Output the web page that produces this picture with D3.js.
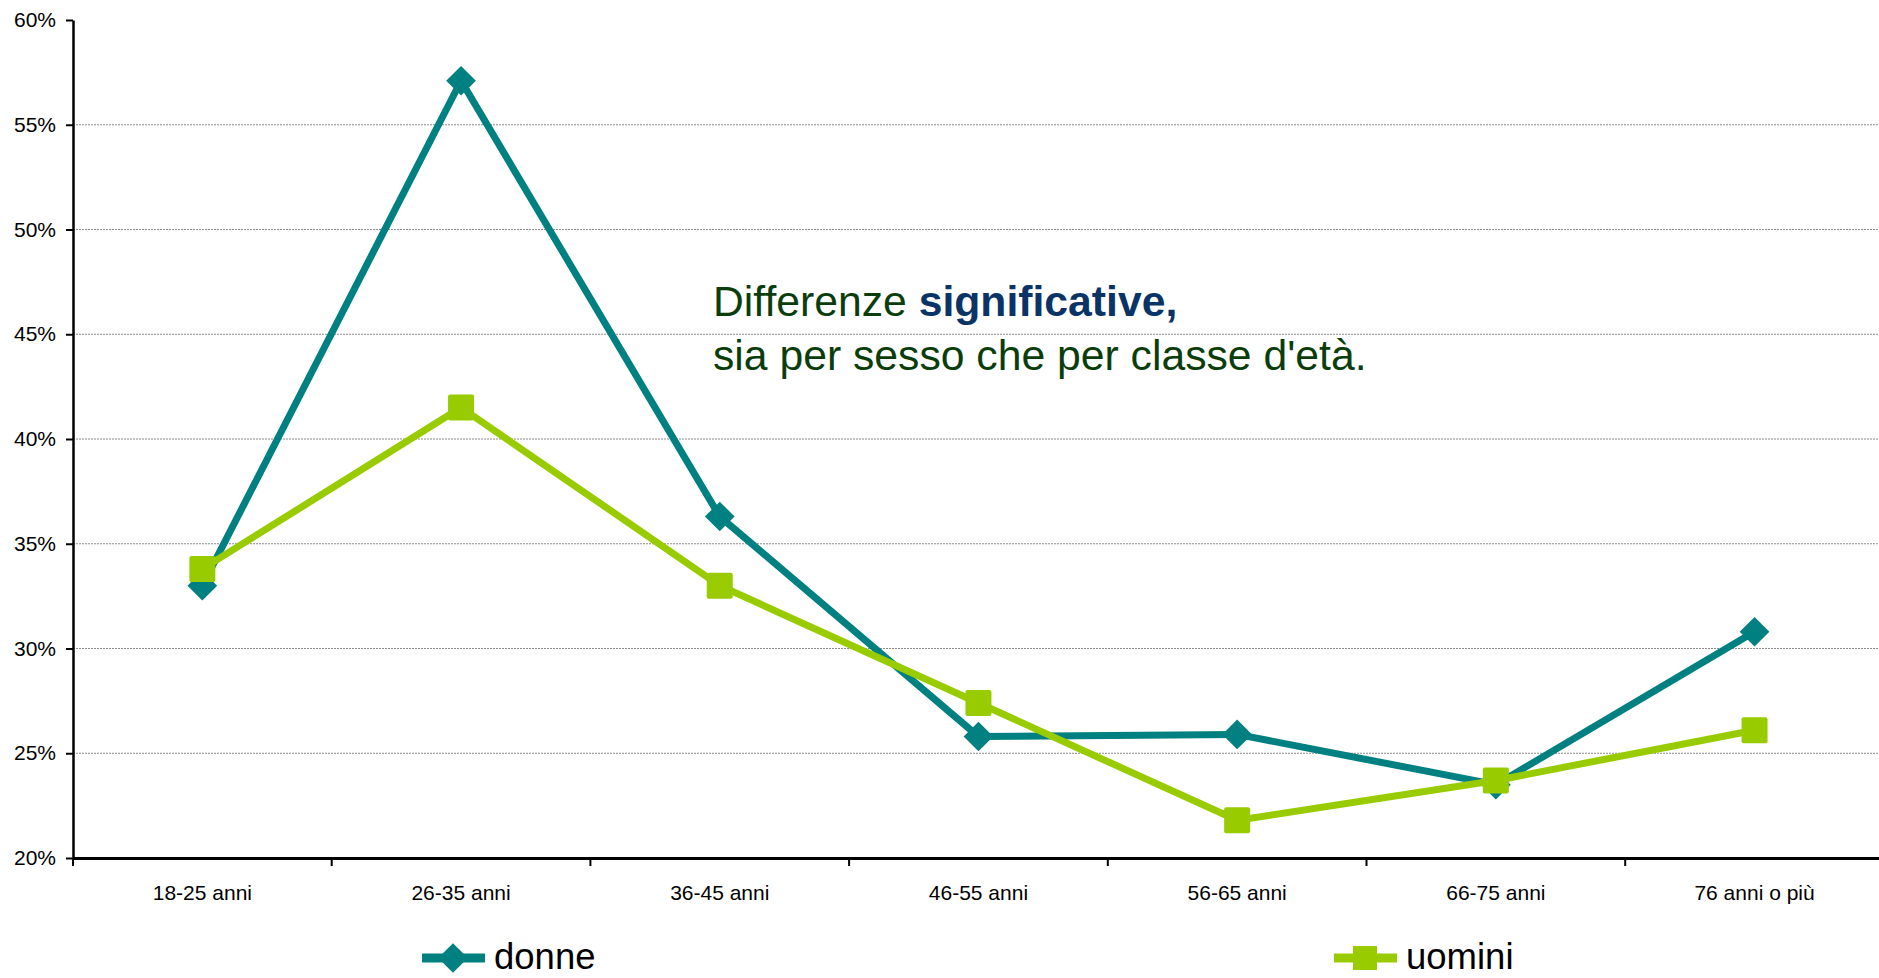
<!DOCTYPE html>
<html>
<head>
<meta charset="utf-8">
<script src="https://cdn.jsdelivr.net/npm/d3@7"></script>
<style>
  html, body { margin: 0; padding: 0; background: #fff; }
  svg { display: block; font-family: "Liberation Sans", Arial, sans-serif; }
</style>
</head>
<body>
<svg id="chart" width="1879" height="978"></svg>
<script>
// data
const categories = ['18-25 anni', '26-35 anni', '36-45 anni', '46-55 anni', '56-65 anni', '66-75 anni', '76 anni o più'];
const donne  = [0.330, 0.571, 0.363, 0.258, 0.259, 0.235, 0.308];
const uomini = [0.338, 0.415, 0.330, 0.274, 0.218, 0.237, 0.261];
const yTicks = [0.20, 0.25, 0.30, 0.35, 0.40, 0.45, 0.50, 0.55, 0.60];

const svg = d3.select('#chart');
const plotLeft = 73, plotTop = 20, plotBottom = 858, plotRight = 73 + 7 * 258.7;

const x = d3.scaleBand().domain(categories).range([plotLeft, plotRight]).padding(0);
const y = d3.scaleLinear().domain([0.2, 0.6]).range([plotBottom, plotTop]);

// gridlines (none on 60%)
svg.append('g')
  .selectAll('line')
  .data(yTicks.filter(d => d > 0.2 && d < 0.6))
  .join('line')
  .attr('x1', plotLeft).attr('x2', 1879)
  .attr('y1', d => y(d)).attr('y2', d => y(d))
  .attr('stroke', '#8c8c8c')
  .attr('stroke-width', 1)
  .attr('stroke-dasharray', '2,1');

// y axis
const yAxis = svg.append('g')
  .attr('transform', `translate(${plotLeft},0)`)
  .call(d3.axisLeft(y).tickValues(yTicks).tickFormat(d3.format('.0%')).tickSize(7).tickSizeOuter(0));
yAxis.select('.domain').attr('stroke', '#000').attr('stroke-width', 2.5);
yAxis.selectAll('.tick line').attr('stroke', '#000').attr('stroke-width', 2);
yAxis.selectAll('.tick text')
  .attr('x', -17)
  .attr('font-size', 21)
  .attr('fill', '#000')
  .style('font-family', '"Liberation Sans", Arial, sans-serif');

// x axis: labels at band centres, ticks on band edges
const xAxis = svg.append('g')
  .attr('transform', `translate(0,${plotBottom})`)
  .call(d3.axisBottom(x).tickSize(0).tickPadding(27));
xAxis.select('.domain').attr('stroke', '#000').attr('stroke-width', 3);
xAxis.selectAll('.tick text')
  .attr('font-size', 21)
  .attr('fill', '#000')
  .style('font-family', '"Liberation Sans", Arial, sans-serif');

svg.append('g')
  .selectAll('line')
  .data(categories)
  .join('line')
  .attr('x1', d => x(d)).attr('x2', d => x(d))
  .attr('y1', plotBottom).attr('y2', plotBottom + 8)
  .attr('stroke', '#000').attr('stroke-width', 2);

const cx = d => x(d) + x.bandwidth() / 2;
const line = d3.line().x((d, i) => cx(categories[i])).y(d => y(d));

const colDonne = '#008080', colUomini = '#99cc00';

// donne
svg.append('path')
  .datum(donne)
  .attr('d', line)
  .attr('fill', 'none')
  .attr('stroke', colDonne)
  .attr('stroke-width', 7)
  .attr('stroke-linejoin', 'round');

svg.append('g')
  .selectAll('path')
  .data(donne)
  .join('path')
  .attr('d', d3.symbol().type(d3.symbolSquare).size(21 * 21))
  .attr('transform', (d, i) => `translate(${cx(categories[i])},${y(d)}) rotate(45)`)
  .attr('fill', colDonne);

// uomini
svg.append('path')
  .datum(uomini)
  .attr('d', line)
  .attr('fill', 'none')
  .attr('stroke', colUomini)
  .attr('stroke-width', 7)
  .attr('stroke-linejoin', 'round');

svg.append('g')
  .selectAll('rect')
  .data(uomini)
  .join('rect')
  .attr('x', (d, i) => cx(categories[i]) - 13)
  .attr('y', d => y(d) - 13)
  .attr('width', 26).attr('height', 26)
  .attr('rx', 2)
  .attr('fill', colUomini);

// annotation
const note = svg.append('g').attr('font-size', 42.7);
const t1 = note.append('text').attr('x', 713).attr('y', 316);
t1.append('tspan').attr('fill', '#0b3d0b').text('Differenze ');
t1.append('tspan').attr('fill', '#0a3366').attr('font-weight', 'bold').text('significative,');
note.append('text').attr('x', 713).attr('y', 370).attr('fill', '#0b3d0b')
  .text("sia per sesso che per classe d'età.");

// legend
const legend = [
  { name: 'donne', color: colDonne, x: 422, shape: 'diamond' },
  { name: 'uomini', color: colUomini, x: 1334, shape: 'square' }
];
const lg = svg.append('g')
  .selectAll('g')
  .data(legend)
  .join('g')
  .attr('transform', d => `translate(${d.x},958)`);
lg.append('line')
  .attr('x1', 0).attr('x2', 63).attr('y1', 0).attr('y2', 0)
  .attr('stroke', d => d.color).attr('stroke-width', 9);
lg.append('path')
  .attr('d', d => d.shape === 'diamond'
    ? d3.symbol().type(d3.symbolSquare).size(21 * 21)()
    : d3.symbol().type(d3.symbolSquare).size(24 * 24)())
  .attr('transform', d => d.shape === 'diamond' ? 'translate(31,0) rotate(45)' : 'translate(31,0)')
  .attr('fill', d => d.color);
lg.append('text')
  .attr('x', 72).attr('y', 11)
  .attr('font-size', 36.5)
  .attr('fill', '#000')
  .text(d => d.name);
</script>
</body>
</html>
